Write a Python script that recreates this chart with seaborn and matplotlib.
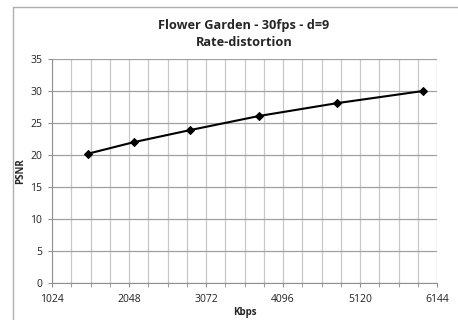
import matplotlib
matplotlib.use("Agg")
import matplotlib.pyplot as plt
import seaborn as sns
import pandas as pd
from matplotlib.ticker import MultipleLocator
from matplotlib.lines import Line2D

kbps = [1503, 2110, 2864, 3779, 4814, 5958]
psnr = [20.2, 22.0, 23.9, 26.1, 28.1, 30.0]
x_ticks = [1024, 2048, 3072, 4096, 5120, 6144]
y_ticks = [0, 5, 10, 15, 20, 25, 30, 35]
title = "Flower Garden - 30fps - d=9\nRate-distortion"

sns.set_style("white")
plt.rcParams['font.family'] = ['Open Sans', 'DejaVu Sans']

df = pd.DataFrame({"Kbps": kbps, "PSNR": psnr})

fig = plt.figure(figsize=(4.58, 3.2), dpi=100)
ax = fig.add_axes([52/458, 37/320, 385/458, 224/320])

# Chart-area border (top and left edges; others run off the image)
bx, by = 12.5/458, 1 - 7/320
fig.lines.append(Line2D([bx, 1.0], [by, by], transform=fig.transFigure,
                        color='#b0b0b0', linewidth=1.0))
fig.lines.append(Line2D([bx, bx], [0.0, by], transform=fig.transFigure,
                        color='#b0b0b0', linewidth=1.0))

sns.lineplot(data=df, x="Kbps", y="PSNR", ax=ax, color='black', linewidth=1.5,
             marker='D', markersize=4, markeredgecolor='black', markerfacecolor='black')

ax.set_xlim(1024, 6144)
ax.set_ylim(0, 35)
ax.set_xticks(x_ticks)
ax.set_xticklabels([str(t) for t in x_ticks], fontsize=7.5, color='#222222')
ax.xaxis.set_minor_locator(MultipleLocator(256))
ax.set_yticks(y_ticks)
ax.set_yticklabels([str(t) for t in y_ticks], fontsize=7.5, color='#222222')

ax.grid(which='major', axis='y', color='#a0a0a0', linewidth=0.9)
ax.grid(which='both', axis='x', color='#c8c8c8', linewidth=0.9)
ax.set_axisbelow(True)

for s in ['top', 'right']:
    ax.spines[s].set_visible(False)
ax.spines['left'].set_color('#909090')
ax.spines['bottom'].set_color('#909090')
ax.tick_params(axis='both', which='both', direction='out', length=3, color='#909090',
               bottom=True, left=True)
ax.tick_params(axis='x', which='major', pad=5)
ax.tick_params(axis='y', which='major', pad=4)

ax.set_xlabel("Kbps", fontsize=7, fontweight='bold', labelpad=1)
ax.set_ylabel("PSNR", fontsize=7, fontweight='bold', labelpad=3)

fig.text(244/458, 1 - 34/320, title, ha='center', va='center', fontsize=9.2,
         fontweight='bold', linespacing=1.35)

fig.savefig("out.png", dpi=100, facecolor='white')
